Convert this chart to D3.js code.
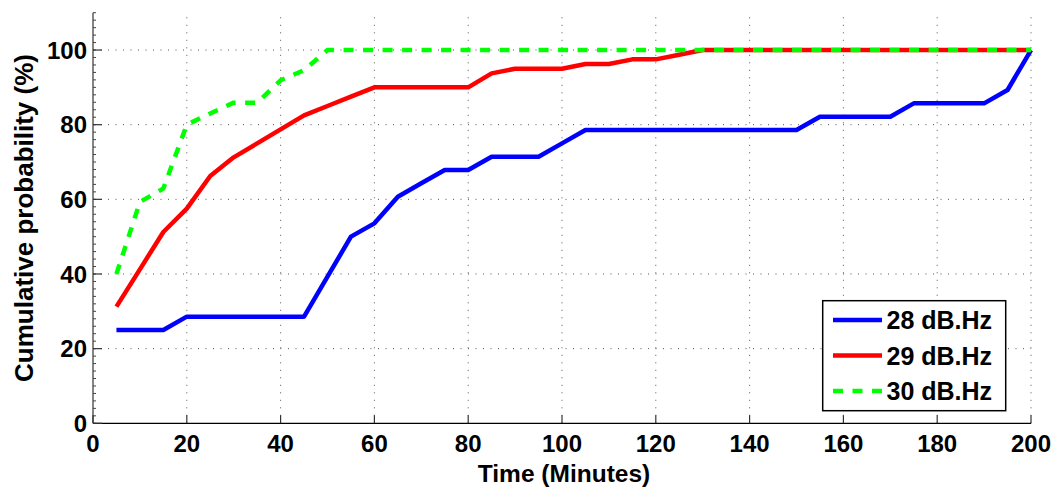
<!DOCTYPE html>
<html>
<head>
<meta charset="utf-8">
<script src="https://cdn.jsdelivr.net/npm/d3@7"></script>
<style>
  html, body { margin: 0; padding: 0; background: #fff; }
  svg { display: block; font-family: "Liberation Sans", Arial, Helvetica, sans-serif; font-weight: bold; }
</style>
</head>
<body>
<svg id="chart" width="1062" height="487"></svg>
<script>
// ---- data ----
const times = [5,10,15,20,25,30,35,40,45,50,55,60,65,70,75,80,85,90,95,100,
               105,110,115,120,125,130,135,140,145,150,155,160,165,170,175,180,185,190,195,200];
const series28 = [25,25,25,28.57,28.57,28.57,28.57,28.57,28.57,39.29,50,53.57,60.71,64.29,67.86,67.86,71.43,71.43,71.43,75,
                  78.57,78.57,78.57,78.57,78.57,78.57,78.57,78.57,78.57,78.57,82.14,82.14,82.14,82.14,85.71,85.71,85.71,85.71,89.29,100];
const series29 = [31.25,41.25,51.25,57.5,66.25,71.25,75,78.75,82.5,85,87.5,90,90,90,90,90,93.75,95,95,95,
                  96.25,96.25,97.5,97.5,98.75,100,100,100,100,100,100,100,100,100,100,100,100,100,100,100];
const series30 = [40,59.3,62.9,80,83,85.9,85.9,91.9,94.6,100,100,100,100,100,100,100,100,100,100,100,
                  100,100,100,100,100,100,100,100,100,100,100,100,100,100,100,100,100,100,100,100];
const seriesNames = ["28 dB.Hz", "29 dB.Hz", "30 dB.Hz"];
const xTicks = [0,20,40,60,80,100,120,140,160,180,200];
const yTicks = [0,20,40,60,80,100];
const xTitle = "Time (Minutes)";
const yTitle = "Cumulative probability (%)";

// ---- layout ----
const svg = d3.select("#chart");
const x = d3.scaleLinear().domain([0, 200]).range([93, 1031]);
const y = d3.scaleLinear().domain([0, 110]).range([423.3, 12.7]);

const styles = [
  { color: "#0000ff", dash: null },
  { color: "#ff0000", dash: null },
  { color: "#00ff00", dash: "10,9.5" }
];
const allSeries = [series28, series29, series30];

// grid
const grid = svg.append("g");
grid.selectAll("line.vg").data(xTicks.filter(d => d > 0)).join("line")
  .attr("x1", d => x(d)).attr("x2", d => x(d))
  .attr("y1", y(0)).attr("y2", y(110))
  .attr("stroke", "#555").attr("stroke-width", 1).attr("stroke-dasharray", "1,6.5");
grid.selectAll("line.hg").data(yTicks.filter(d => d > 0)).join("line")
  .attr("x1", x(0)).attr("x2", x(200))
  .attr("y1", d => y(d)).attr("y2", d => y(d))
  .attr("stroke", "#555").attr("stroke-width", 1).attr("stroke-dasharray", "1,6.5");

// axes lines
const ax = svg.append("g");
ax.append("line").attr("x1", x(0)).attr("x2", x(0)).attr("y1", y(0)).attr("y2", y(110))
  .attr("stroke", "#333").attr("stroke-width", 1.2);
ax.append("line").attr("x1", x(0)).attr("x2", x(200)).attr("y1", y(0)).attr("y2", y(0))
  .attr("stroke", "#000").attr("stroke-width", 1.3);

// y minor ticks
const yMinor = d3.range(0, 111, 2);
ax.selectAll("line.ymin").data(yMinor).join("line")
  .attr("x1", x(0)).attr("x2", x(0) + 3)
  .attr("y1", d => y(d)).attr("y2", d => y(d))
  .attr("stroke", "#444").attr("stroke-width", 1);
// y major ticks
ax.selectAll("line.ymaj").data(yTicks).join("line")
  .attr("x1", x(0)).attr("x2", x(0) + 9)
  .attr("y1", d => y(d)).attr("y2", d => y(d))
  .attr("stroke", "#333").attr("stroke-width", 1.2);
// x major ticks
ax.selectAll("line.xmaj").data(xTicks).join("line")
  .attr("x1", d => x(d)).attr("x2", d => x(d))
  .attr("y1", y(0)).attr("y2", y(0) - 8)
  .attr("stroke", "#333").attr("stroke-width", 1.2);

// tick labels
ax.selectAll("text.yl").data(yTicks).join("text")
  .attr("x", x(0) - 6).attr("y", d => y(d) + 8.6)
  .attr("text-anchor", "end").attr("font-size", 24).text(d => d);
ax.selectAll("text.xl").data(xTicks).join("text")
  .attr("x", d => x(d)).attr("y", y(0) + 29)
  .attr("text-anchor", "middle").attr("font-size", 24).text(d => d);

// titles
svg.append("text").attr("x", (x(0) + x(200)) / 2 + 2).attr("y", 481.5)
  .attr("text-anchor", "middle").attr("font-size", 24.5).text(xTitle);
svg.append("text")
  .attr("transform", `translate(33,${(y(0) + y(110)) / 2}) rotate(-90)`)
  .attr("text-anchor", "middle").attr("font-size", 26).text(yTitle);

// lines
const line = d3.line().x((d, i) => x(times[i])).y(d => y(d));
svg.append("g").selectAll("path").data(allSeries).join("path")
  .attr("d", d => line(d))
  .attr("fill", "none")
  .attr("stroke", (d, i) => styles[i].color)
  .attr("stroke-width", 4.5)
  .attr("stroke-linejoin", "round")
  .attr("stroke-dasharray", (d, i) => styles[i].dash);

// legend
const lg = svg.append("g");
lg.append("rect").attr("x", 822.7).attr("y", 300.7).attr("width", 183).attr("height", 110)
  .attr("fill", "#fff").attr("stroke", "#000").attr("stroke-width", 1.5);
const rows = lg.selectAll("g.row").data(seriesNames).join("g")
  .attr("transform", (d, i) => `translate(0,${320 + i * 35.5})`);
rows.append("line").attr("x1", 833).attr("x2", 882).attr("y1", 0).attr("y2", 0)
  .attr("stroke", (d, i) => styles[i].color).attr("stroke-width", 4.5)
  .attr("stroke-dasharray", (d, i) => styles[i].dash);
rows.append("text").attr("x", 886.5).attr("y", 9).attr("font-size", 25).text(d => d);
</script>
</body>
</html>
